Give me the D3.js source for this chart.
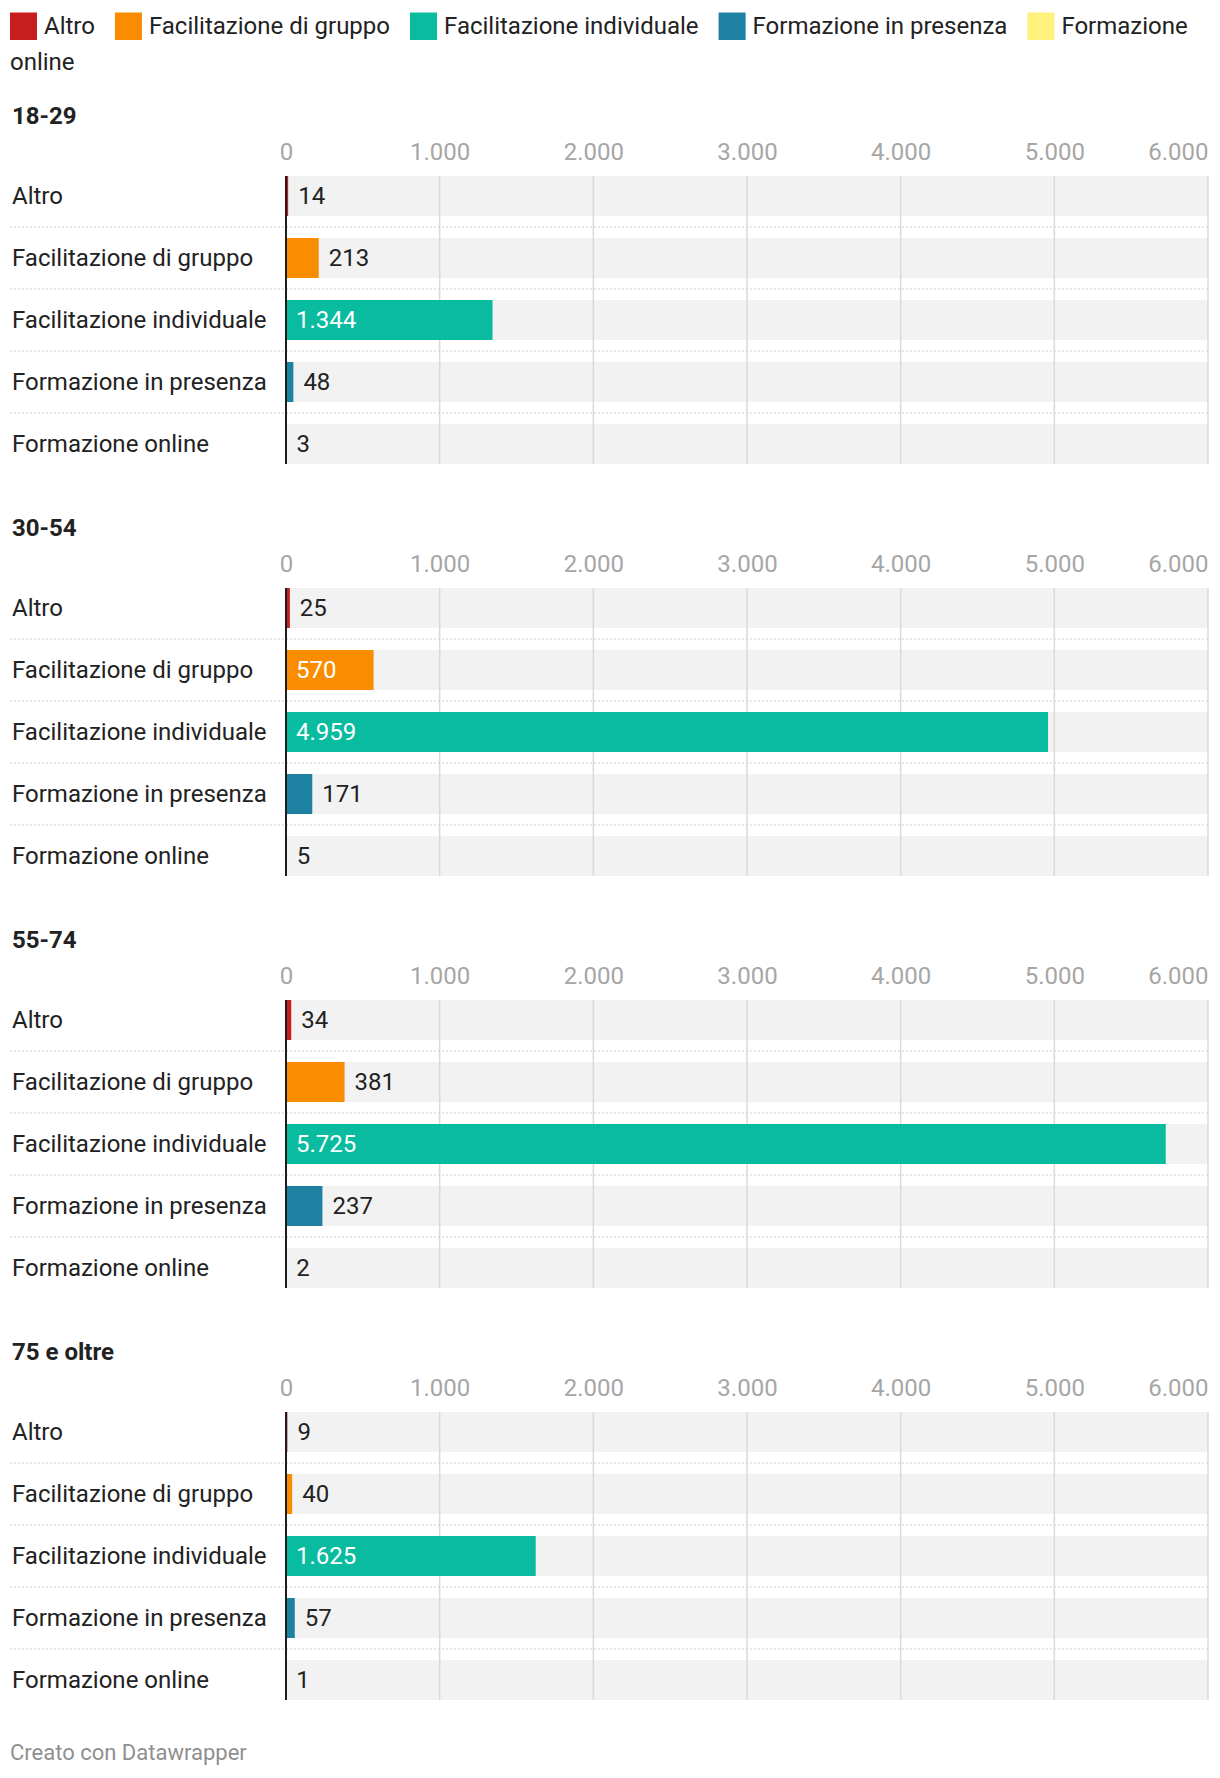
<!DOCTYPE html>
<html>
<head>
<meta charset="utf-8">
<script src="https://cdn.jsdelivr.net/npm/d3@7"></script>
<style>
  html, body { margin: 0; padding: 0; background: #fff; }
  svg { display: block; font-family: Roboto, "Noto Sans", sans-serif; }
</style>
</head>
<body>
<svg id="chart" width="1220" height="1778"></svg>
<script>
// ---- data ----
const groups = ["18-29", "30-54", "55-74", "75 e oltre"];
const categories = ["Altro", "Facilitazione di gruppo", "Facilitazione individuale", "Formazione in presenza", "Formazione online"];
const values18_29 = [14, 213, 1344, 48, 3];
const values30_54 = [25, 570, 4959, 171, 5];
const values55_74 = [34, 381, 5725, 237, 2];
const values75plus = [9, 40, 1625, 57, 1];
const seriesValues = [values18_29, values30_54, values55_74, values75plus];
const colors = ["#c71e1d", "#fa8c00", "#09bb9f", "#1d81a2", "#fff17c"];
const tickValues = [0, 1000, 2000, 3000, 4000, 5000, 6000];
const footerText = "Creato con Datawrapper";

// ---- layout ----
const FS = 24;
const panelOffset = 412;
const headerY = 116;
const tickY = 151.5;
const bandTop = 176;
const step = 62;
const barH = 40;
const plotLeft = 286, plotRight = 1208;

const it = d3.formatLocale({decimal: ",", thousands: ".", grouping: [3], currency: ["€", ""]});
const fmt = it.format(",d");

const svg = d3.select("#chart");
const x = d3.scaleLinear().domain([0, 6000]).range([plotLeft, plotRight]);
const color = d3.scaleOrdinal().domain(categories).range(colors);

// ---- legend ----
const legend = svg.append("g").attr("class", "legend");
{
  let lx = 10, ly = 26;
  const sw = 27, gapSw = 7, gapItem = 20, lineH = 35, maxX = plotRight;
  categories.forEach((c, i) => {
    legend.append("rect").attr("x", lx).attr("y", ly - 13.5).attr("width", sw).attr("height", 27.5).attr("fill", color(c));
    lx += sw + gapSw;
    const words = c.split(" ");
    let line = "";
    let t = legend.append("text").attr("x", lx).attr("y", ly).attr("dy", "0.35em")
      .attr("font-size", FS).attr("fill", "#222");
    let startX = lx;
    words.forEach((w) => {
      const test = line ? line + " " + w : w;
      t.text(test);
      if (startX + t.node().getComputedTextLength() > maxX && line) {
        t.text(line);
        ly += lineH + 0.5;
        startX = 10;
        t = legend.append("text").attr("x", startX).attr("y", ly).attr("dy", "0.35em")
          .attr("font-size", FS).attr("fill", "#222").text(w);
        line = w;
      } else {
        line = test;
      }
    });
    lx = startX + t.node().getComputedTextLength() + gapItem;
  });
}

// ---- panels ----
groups.forEach((g, gi) => {
  const off = gi * panelOffset;
  const vals = seriesValues[gi];
  const panel = svg.append("g").attr("class", "panel");

  const y = d3.scaleBand().domain(categories)
    .range([bandTop + off, bandTop + off + 4 * step + barH])
    .paddingInner((step - barH) / step).paddingOuter(0);

  panel.append("text").attr("x", 12).attr("y", headerY + off).attr("dy", "0.35em")
    .attr("font-size", FS).attr("font-weight", "bold").attr("fill", "#222").text(g);

  // tick labels
  const axis = d3.axisTop(x).tickValues(tickValues).tickFormat(fmt).tickSize(0).tickPadding(0);
  const ax = panel.append("g").attr("transform", `translate(0,${tickY + off})`).call(axis);
  ax.select(".domain").remove();
  ax.selectAll("text").attr("font-size", FS).attr("fill", "#a6a6a6")
    .attr("font-family", "Roboto, sans-serif").attr("dy", "0.35em").attr("y", 0)
    .attr("text-anchor", d => d === 6000 ? "end" : "middle");

  // background bands
  panel.selectAll("rect.bg").data(categories).join("rect").attr("class", "bg")
    .attr("x", plotLeft).attr("width", plotRight - plotLeft)
    .attr("y", d => y(d)).attr("height", y.bandwidth()).attr("fill", "#f2f2f2");

  const yTop = y(categories[0]), yBot = y(categories[categories.length - 1]) + y.bandwidth();

  // gridlines
  panel.selectAll("line.grid").data(tickValues.slice(1)).join("line").attr("class", "grid")
    .attr("x1", d => x(d)).attr("x2", d => x(d)).attr("y1", yTop).attr("y2", yBot)
    .attr("stroke", "#dadada").attr("stroke-width", 1.5);

  // dotted separators
  panel.selectAll("line.sep").data(categories.slice(1)).join("line").attr("class", "sep")
    .attr("x1", 10).attr("x2", plotRight)
    .attr("y1", d => y(d) - (step - barH) / 2).attr("y2", d => y(d) - (step - barH) / 2)
    .attr("stroke", "#cfcfcf").attr("stroke-width", 1).attr("stroke-dasharray", "2,2");

  // bars
  panel.selectAll("rect.bar").data(categories).join("rect").attr("class", "bar")
    .attr("x", x(0)).attr("y", d => y(d)).attr("height", y.bandwidth())
    .attr("width", (d, i) => Math.max(0, x(vals[i]) - x(0)))
    .attr("fill", d => color(d));

  // zero axis line
  panel.append("line").attr("x1", x(0)).attr("x2", x(0)).attr("y1", yTop).attr("y2", yBot)
    .attr("stroke", "#1d1d1d").attr("stroke-width", 2);

  // row labels
  panel.selectAll("text.row").data(categories).join("text").attr("class", "row")
    .attr("x", 12).attr("y", d => y(d) + y.bandwidth() / 2).attr("dy", "0.35em")
    .attr("font-size", FS).attr("fill", "#222").text(d => d);

  // value labels
  panel.selectAll("text.val").data(categories).join("text").attr("class", "val")
    .attr("y", d => y(d) + y.bandwidth() / 2).attr("dy", "0.35em")
    .attr("font-size", FS).text((d, i) => fmt(vals[i]))
    .each(function (d, i) {
      const tw = this.getComputedTextLength();
      const bw = x(vals[i]) - x(0);
      const pad = 10;
      if (bw >= tw + 2 * pad) {
        d3.select(this).attr("x", x(0) + pad).attr("fill", "#fff");
      } else {
        d3.select(this).attr("x", x(vals[i]) + pad).attr("fill", "#222");
      }
    });
});

// ---- footer ----
svg.append("text").attr("x", 10).attr("y", 1752).attr("dy", "0.35em")
  .attr("font-size", 22).attr("fill", "#8f8f8f").text(footerText);
</script>
</body>
</html>
